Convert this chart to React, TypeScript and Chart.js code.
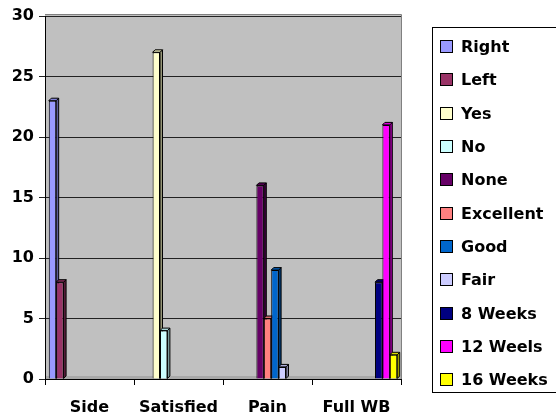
import React, { useEffect, useRef } from "react";
import { Chart, registerables } from "chart.js";

Chart.register(...registerables);

const categories = ["Side", "Satisfied", "Pain", "Full WB"];
const seriesNames = ["Right", "Left", "Yes", "No", "None", "Excellent", "Good", "Fair", "8 Weeks", "12 Weels", "16 Weeks"];
const seriesColors = ["#9999FF", "#993366", "#FFFFCC", "#CCFFFF", "#660066", "#FF8080", "#0066CC", "#CCCCFF", "#000080", "#FF00FF", "#FFFF00"];
// value of each series in each category (null = no bar)
const rightValues = [23, null, null, null];
const leftValues = [8, null, null, null];
const yesValues = [null, 27, null, null];
const noValues = [null, 4, null, null];
const noneValues = [null, null, 16, null];
const excellentValues = [null, null, 5, null];
const goodValues = [null, null, 9, null];
const fairValues = [null, null, 1, null];
const weeks8Values = [null, null, null, 8];
const weeks12Values = [null, null, null, 21];
const weeks16Values = [null, null, null, 2];
const seriesValues = [rightValues, leftValues, yesValues, noValues, noneValues, excellentValues, goodValues, fairValues, weeks8Values, weeks12Values, weeks16Values];
const yTicks = [0, 5, 10, 15, 20, 25, 30];

const FONT = "'DejaVu Sans', sans-serif";

function shade(hex: string, f: number) {
  const n = parseInt(hex.slice(1), 16);
  const r = Math.round(((n >> 16) & 255) * f);
  const g = Math.round(((n >> 8) & 255) * f);
  const b = Math.round((n & 255) * f);
  return `rgb(${r},${g},${b})`;
}

const plotBg = {
  id: "plotBg",
  beforeDraw(chart: any) {
    const { ctx, chartArea: a } = chart;
    ctx.save();
    ctx.fillStyle = "#C0C0C0";
    ctx.fillRect(a.left, a.top - 2, a.right - a.left, a.bottom - a.top + 2);
    ctx.strokeStyle = "#808080";
    ctx.lineWidth = 1;
    ctx.beginPath();
    ctx.moveTo(a.left, a.top - 1.5);
    ctx.lineTo(a.right + 0.5, a.top - 1.5);
    ctx.lineTo(a.right + 0.5, a.bottom);
    ctx.stroke();
    ctx.fillStyle = "#A8A8A8";
    ctx.fillRect(a.left, a.bottom - 3, a.right - a.left, 3);
    ctx.restore();
  },
};

const bars3d = {
  id: "bars3d",
  beforeDatasetsDraw(chart: any) {
    const { ctx } = chart;
    const d = 2.5;
    ctx.save();
    ctx.lineWidth = 1;
    ctx.strokeStyle = "#000";
    chart.data.datasets.forEach((ds: any, i: number) => {
      const meta = chart.getDatasetMeta(i);
      meta.data.forEach((el: any, j: number) => {
        if (ds.data[j] == null) return;
        const { x, y, base, width } = el.getProps(["x", "y", "base", "width"], true);
        if (!isFinite(y)) return;
        const l = x - width / 2;
        const r = x + width / 2;
        ctx.fillStyle = shade(seriesColors[i], 0.6);
        ctx.beginPath();
        ctx.moveTo(r, y);
        ctx.lineTo(r + d, y - d);
        ctx.lineTo(r + d, base - d);
        ctx.lineTo(r, base);
        ctx.closePath();
        ctx.fill();
        ctx.stroke();
        ctx.fillStyle = shade(seriesColors[i], 0.85);
        ctx.beginPath();
        ctx.moveTo(l, y);
        ctx.lineTo(l + d, y - d);
        ctx.lineTo(r + d, y - d);
        ctx.lineTo(r, y);
        ctx.closePath();
        ctx.fill();
        ctx.stroke();
      });
    });
    ctx.restore();
  },
};

export default function App() {
  const ref = useRef<HTMLCanvasElement>(null);
  useEffect(() => {
    const chart = new Chart(ref.current!, {
      type: "bar",
      data: {
        labels: categories,
        datasets: seriesNames.map((name, i) => ({
          label: name,
          data: seriesValues[i],
          backgroundColor: seriesColors[i],
          borderColor: "#000",
          borderWidth: 1,
          barPercentage: 1,
          categoryPercentage: 0.915,
        })),
      },
      options: {
        animation: false,
        responsive: false,
        devicePixelRatio: 1,
        layout: { padding: { left: 0, right: 155, top: 16, bottom: 0 } },
        plugins: { legend: { display: false }, tooltip: { enabled: false } },
        scales: {
          x: {
            grid: { drawOnChartArea: false, color: "#000", tickLength: 6 },
            border: { color: "#000", width: 1 },
            ticks: { color: "#000", font: { family: FONT, size: 16, weight: "bold" }, padding: 13 },
            afterFit: (s: any) => { s.height = 39; },
          },
          y: {
            min: 0,
            max: 30,
            afterBuildTicks: (s: any) => { s.ticks = yTicks.map((v) => ({ value: v })); },
            grid: { color: "#222", tickLength: 6 },
            border: { color: "#000", width: 1 },
            ticks: { color: "#000", font: { family: FONT, size: 16, weight: "bold" }, padding: 5 },
            afterFit: (s: any) => { s.width = 45; },
          },
        },
      },
      plugins: [plotBg, bars3d],
    });
    return () => chart.destroy();
  }, []);

  return (
    <div style={{ position: "fixed", left: 0, top: 0, width: 556, height: 418, background: "#fff", overflow: "hidden" }}>
      <canvas ref={ref} width={556} height={418} style={{ position: "absolute", left: 0, top: 0 }} />
      <div
        style={{
          position: "absolute",
          left: 432,
          top: 27,
          width: 140,
          height: 366,
          border: "1px solid #000",
          boxSizing: "border-box",
          paddingTop: 2,
          fontFamily: FONT,
          fontWeight: "bold",
          fontSize: 16,
          color: "#000",
        }}
      >
        {seriesNames.map((name, i) => (
          <div key={name} style={{ height: 33.3, display: "flex", alignItems: "center" }}>
            <span
              style={{
                display: "inline-block",
                width: 13,
                height: 13,
                boxSizing: "border-box",
                border: "1px solid #000",
                background: seriesColors[i],
                marginLeft: 7,
                marginRight: 8,
              }}
            />
            <span style={{ whiteSpace: "nowrap" }}>{name}</span>
          </div>
        ))}
      </div>
    </div>
  );
}
